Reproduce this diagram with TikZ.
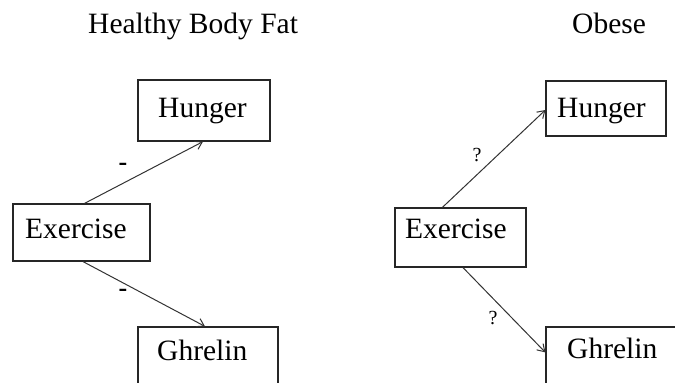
\documentclass[tikz,border=0pt]{standalone}
\usepackage{fontspec}
\setmainfont{Liberation Serif}
\usetikzlibrary{arrows.meta,calc}
\begin{document}
\begin{tikzpicture}[x=1pt,y=-1pt,
  box/.style={draw=black!85,line width=1.2pt,inner sep=0pt},
  txt/.style={inner sep=0pt,anchor=base west,font=\fontsize{29.5}{30}\selectfont},
  lbl/.style={inner sep=0pt,font=\fontsize{20}{20}\selectfont},
  dsh/.style={inner sep=0pt,font=\fontsize{26}{26}\selectfont\bfseries},
  conn/.style={draw=black!80,line width=1pt,-{Straight Barb[length=7pt,width=9pt,line width=1pt]}}]
\useasboundingbox (0,0) rectangle (675,383);
\clip (0,0) rectangle (675,383);
% titles
\node[txt] (t1) at (88,33) {Healthy Body Fat};
\node[txt] (t2) at (572,33) {Obese};
% left panel boxes
\node[box,minimum width=132pt,minimum height=61pt] (lhu) at (204,110.5) {};
\node[box,minimum width=137pt,minimum height=57pt] (lex) at (81.5,232.5) {};
\node[box,minimum width=140pt,minimum height=63pt] (lgh) at (208,358.5) {};
\node[txt] (lhut) at (158,117) {Hunger};
\node[txt] (lext) at (25,238) {Exercise};
\node[txt] (lght) at (157,360) {Ghrelin};
% right panel boxes
\node[box,minimum width=120pt,minimum height=55pt] (rhu) at (606,108.5) {};
\node[box,minimum width=131pt,minimum height=59pt] (rex) at (460.5,237.5) {};
\node[box,minimum width=139pt,minimum height=63pt] (rgh) at (615.5,358.5) {};
\node[txt] (rhut) at (557,117) {Hunger};
\node[txt] (rext) at (405,238) {Exercise};
\node[txt] (rght) at (567,358) {Ghrelin};
% connectors
\draw[conn] ($(lex.north)+(3,0)$) -- ($(lhu.south)+(-1,0)$);
\draw[conn] ($(lex.south)+(1.5,0)$) -- ($(lgh.north)+(-3,0)$);
\draw[conn] ($(rex.north west)+(48,0)$) -- ($(rhu.west)+(0,1.5)$);
\draw[conn] ($(rex.south)+(2.5,0)$) -- ($(rgh.north west)+(0,26)$);
% labels
\node[dsh] (l1) at (123,167) {-};
\node[dsh] (l2) at (123,293) {-};
\node[lbl] (l3) at (477,155) {?};
\node[lbl] (l4) at (493,318) {?};
\end{tikzpicture}
\end{document}
